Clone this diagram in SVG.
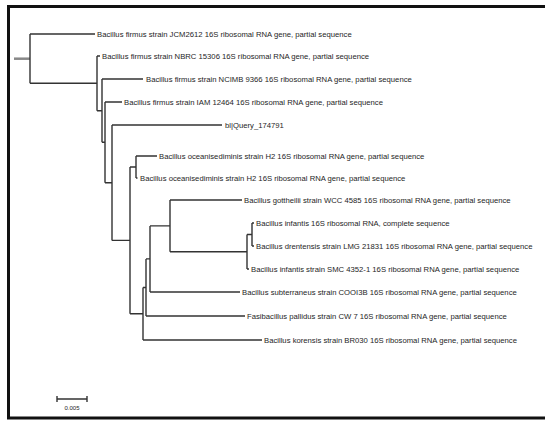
<svg xmlns="http://www.w3.org/2000/svg" width="545" height="421" viewBox="0 0 545 421">
<style>
.lbl{font-family:"Liberation Sans",Arial,sans-serif;font-size:7.7px;fill:#1e1e1e}
.br{stroke:#333;stroke-width:1.4;fill:none}
.stub{stroke:#888;stroke-width:2.5;fill:none}
.frame{stroke:#111;stroke-width:3;fill:none}
</style>
<rect width="545" height="421" fill="#fff"/>
<path class="frame" d="M560 6.5 H8.5 V418 H560"/>
<g id="connectors">
<path class="stub" d="M14 58.7 H30"/>
<path class="br" d="M30 34 V83.3 M30 34 H95 M30 83.3 H97"/>
<path class="br" d="M97 56 V110.7 M97 56 H100 M97 110.7 H102"/>
<path class="br" d="M102 79 V142.3 M102 79 H143 M102 142.3 H105"/>
<path class="br" d="M105 102 V182.7 M105 102 H122 M105 182.7 H112"/>
<path class="br" d="M112 125 V240.4 M112 125 H222 M112 240.4 H130"/>
<path class="br" d="M130 167 V313.7 M130 167 H136 M130 313.7 H143"/>
<path class="br" d="M136 156 V178 M136 156 H157 M136 178 H137.5"/>
<path class="br" d="M143 287.5 V340 M143 287.5 H146 M143 340 H262"/>
<path class="br" d="M146 258.9 V316 M146 258.9 H150 M146 316 H245"/>
<path class="br" d="M150 225.9 V292 M150 225.9 H170 M150 292 H240"/>
<path class="br" d="M170 200 V251.8 M170 200 H242 M170 251.8 H247"/>
<path class="br" d="M247 234.5 V269 M247 234.5 H252 M247 269 H249"/>
<path class="br" d="M252 223 V246 M252 223 H254 M252 246 H254"/>
<path class="br" d="M57 399 H87 M57 396 V402 M87 396 V402"/>
</g>
<g id="leaf-jcm2612"><text class="lbl" x="97" y="36.8">Bacillus firmus strain JCM2612 16S ribosomal RNA gene, partial sequence</text></g>
<g id="leaf-nbrc15306"><text class="lbl" x="102" y="58.8">Bacillus firmus strain NBRC 15306 16S ribosomal RNA gene, partial sequence</text></g>
<g id="leaf-ncimb9366"><text class="lbl" x="146" y="81.8">Bacillus firmus strain NCIMB 9366 16S ribosomal RNA gene, partial sequence</text></g>
<g id="leaf-iam12464"><text class="lbl" x="124" y="104.8">Bacillus firmus strain IAM 12464 16S ribosomal RNA gene, partial sequence</text></g>
<g id="leaf-query"><text class="lbl" x="225" y="127.8">bl|Query_174791</text></g>
<g id="leaf-h2a"><text class="lbl" x="159" y="158.8">Bacillus oceanisediminis strain H2 16S ribosomal RNA gene, partial sequence</text></g>
<g id="leaf-h2b"><text class="lbl" x="140" y="180.8">Bacillus oceanisediminis strain H2 16S ribosomal RNA gene, partial sequence</text></g>
<g id="leaf-wcc4585"><text class="lbl" x="244" y="202.8">Bacillus gottheilii strain WCC 4585 16S ribosomal RNA gene, partial sequence</text></g>
<g id="leaf-infantis"><text class="lbl" x="256" y="225.8">Bacillus infantis 16S ribosomal RNA, complete sequence</text></g>
<g id="leaf-lmg21831"><text class="lbl" x="256" y="248.8">Bacillus drentensis strain LMG 21831 16S ribosomal RNA gene, partial sequence</text></g>
<g id="leaf-smc4352"><text class="lbl" x="251" y="271.8">Bacillus infantis strain SMC 4352-1 16S ribosomal RNA gene, partial sequence</text></g>
<g id="leaf-cooi3b"><text class="lbl" x="242" y="294.8">Bacillus subterraneus strain COOI3B 16S ribosomal RNA gene, partial sequence</text></g>
<g id="leaf-cw7"><text class="lbl" x="247" y="318.8">Fasibacillus pallidus strain CW 7 16S ribosomal RNA gene, partial sequence</text></g>
<g id="leaf-br030"><text class="lbl" x="264" y="342.8">Bacillus korensis strain BR030 16S ribosomal RNA gene, partial sequence</text></g>
<g id="scale-label"><text class="lbl" x="72" y="410" text-anchor="middle" style="font-size:6px">0.005</text></g>
</svg>
